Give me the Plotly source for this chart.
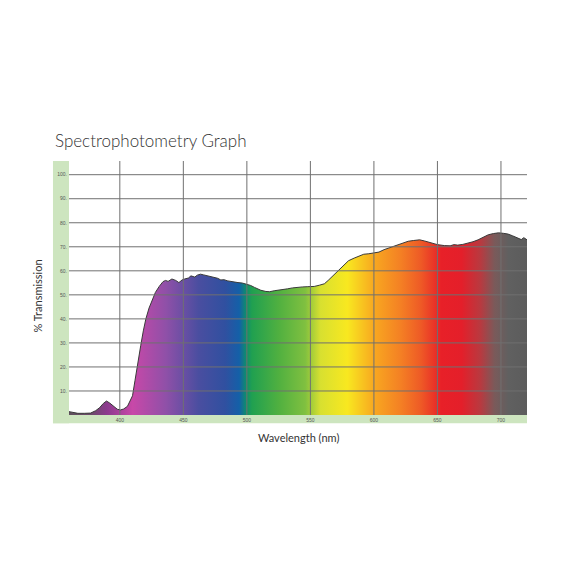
import plotly.graph_objects as go

# ======================
# Data
# ======================
wavelength = [360, 363, 367, 372, 377, 381, 384, 387, 389.5, 392, 395, 398, 400.5, 403, 406, 408,
              410, 412, 414, 416.5, 418.5, 420.5, 423, 425.5, 428, 431, 434, 436, 438, 441, 444,
              446.5, 449, 451, 454, 456, 459, 461, 463.5, 466, 469, 471.5, 474, 477, 479.5, 482,
              485, 487.5, 490, 493, 496.5, 500, 503, 506, 508.5, 511, 515, 518, 521.5, 525, 528,
              532, 536, 540, 544, 548, 553, 557, 561, 564, 568, 572, 576, 580, 584.5, 588, 592,
              596, 600.5, 604, 608, 612, 616, 620, 624, 627, 631, 636, 640, 645, 650, 655.5, 660,
              663, 666, 670, 674, 678, 682, 686, 690, 694, 698, 702, 705.5, 709, 713, 716, 718, 720.5]
transmission = [1.4, 1.0, 0.7, 0.7, 0.8, 1.8, 3.0, 4.8, 5.8, 5.0, 3.5, 2.4, 2.1, 2.5, 3.6, 5.5,
                 8.0, 14.5, 21.5, 29.0, 35.0, 40.0, 44.5, 48.0, 51.0, 53.5, 55.5, 56.0, 55.6, 56.6, 56.0,
                 55.1, 56.2, 56.6, 57.0, 57.9, 57.4, 58.2, 58.6, 58.3, 58.0, 57.6, 57.3, 56.9, 56.2, 56.3,
                 55.8, 55.5, 55.4, 55.1, 54.9, 54.4, 53.9, 53.1, 52.5, 51.9, 51.4, 51.3, 51.7, 51.9, 52.2,
                 52.5, 52.9, 53.2, 53.3, 53.4, 53.5, 54.0, 54.6, 56.0, 58.0, 60.3, 62.3, 64.2, 65.3, 66.2, 66.9,
                 67.1, 67.4, 67.8, 68.8, 69.5, 70.5, 71.2, 71.9, 72.3, 72.6, 72.9, 72.4, 71.5, 70.9, 70.5, 70.4,
                 70.9, 70.7, 71.0, 71.5, 72.1, 72.9, 74.0, 75.0, 75.5, 75.8, 75.6, 75.3, 74.6, 73.6, 73.0, 73.8, 72.9]

# spectrum colours across the wavelength band
spectrum_nm = [360, 378, 390, 410, 436, 462, 483, 494, 499, 504, 525, 546, 558, 579, 600, 621, 637,
               653, 669, 684, 695, 706, 720.5]
spectrum_col = ["#5e505c", "#6e4a6c", "#8c3a8e", "#c848a8", "#9050a8", "#4a4ea0", "#3050a0",
                "#1460a8", "#108a70", "#20a050", "#50b040", "#80c040", "#d8e030", "#f8e820",
                "#f8a820", "#f48024", "#ee5a26", "#e82028", "#e41f2a", "#b83a40", "#7a5a5a",
                "#606060", "#5c5c5c"]

x_ticks = [400, 450, 500, 550, 600, 650, 700]
y_ticks = [10, 20, 30, 40, 50, 60, 70, 80, 90, 100]
y_labels = [f"{v}." for v in y_ticks]

x_min, x_max = 360, 720.5
y_min, y_max = 0, 105.7

lo, hi = spectrum_nm[0], spectrum_nm[-1]
colorscale = [[(w - lo) / (hi - lo), c] for w, c in zip(spectrum_nm, spectrum_col)]

fig = go.Figure()

fig.add_trace(go.Scatter(
    x=wavelength, y=transmission,
    mode="lines",
    fill="tozeroy",
    fillgradient=dict(type="horizontal", colorscale=colorscale, start=lo, stop=hi),
    line=dict(color="#3a3a3a", width=1),
    hoverinfo="x+y",
    showlegend=False,
))

# green label bands (left and bottom)
band = "#cde5bf"
fig.add_shape(type="rect", xref="x domain", yref="y domain", x0=-0.035, x1=0, y0=-0.032, y1=1,
              fillcolor=band, line_width=0, layer="below")
fig.add_shape(type="rect", xref="x domain", yref="y domain", x0=-0.035, x1=1, y0=-0.032, y1=0,
              fillcolor=band, line_width=0, layer="below")

# grid drawn over the coloured fill
for v in x_ticks:
    fig.add_shape(type="line", xref="x", yref="y domain", x0=v, x1=v, y0=0, y1=1,
                  line=dict(color="#707070", width=1), layer="above")
for v in y_ticks:
    fig.add_shape(type="line", xref="x domain", yref="y", x0=0, x1=1, y0=v, y1=v,
                  line=dict(color="#707070", width=1), layer="above")

fig.update_xaxes(
    range=[x_min, x_max], showgrid=False, zeroline=False, showline=False,
    tickvals=x_ticks, ticks="", ticklabelstandoff=1,
    tickfont=dict(family="Liberation Sans", size=5, color="#555555"),
)
fig.update_yaxes(
    range=[y_min, y_max], showgrid=False, zeroline=False, showline=False,
    tickvals=y_ticks, ticktext=y_labels, ticks="", ticklabelstandoff=1,
    tickfont=dict(family="Liberation Sans", size=5, color="#555555"),
)

fig.add_annotation(text="Wavelength (nm)", xref="paper", yref="paper", x=0.5, y=-0.09,
                   xanchor="center", yanchor="middle", showarrow=False,
                   font=dict(family="Lato", size=11, color="#333333"))
fig.add_annotation(text="% Transmission", xref="paper", yref="paper", x=-0.068, y=0.47,
                   xanchor="center", yanchor="middle", textangle=-90, showarrow=False,
                   font=dict(family="Lato", size=11, color="#333333"))

# page body adds an 8px offset, so margins are shifted to compensate
fig.update_layout(
    width=576, height=576,
    margin=dict(l=61, r=57, t=153, b=169),
    paper_bgcolor="white", plot_bgcolor="white",
    title=dict(text="Spectrophotometry Graph", x=47 / 576, xanchor="left",
               y=1 - 133 / 576, yanchor="middle",
               font=dict(family="Lato", size=17, color="#333333", weight=300)),
)

fig.write_html("out.html")
